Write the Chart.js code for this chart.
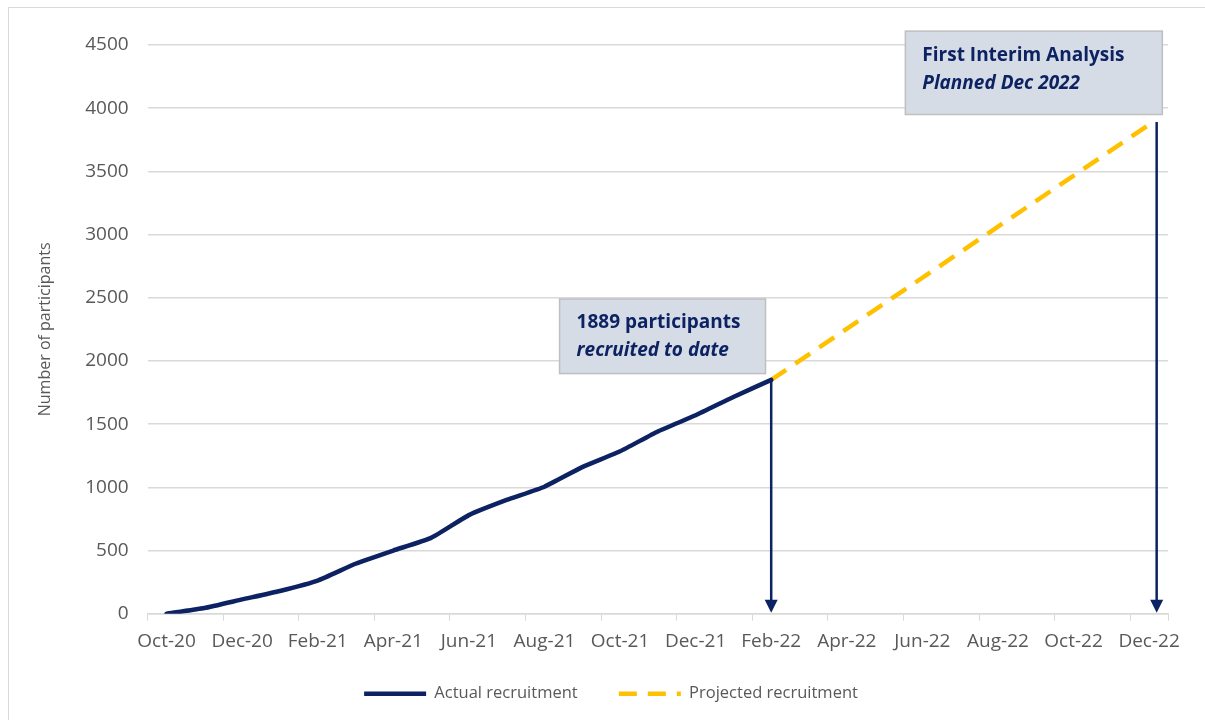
<!DOCTYPE html>
<html>
<head>
<meta charset="utf-8">
<script src="https://cdn.jsdelivr.net/npm/chart.js@4"></script>
<style>
  body { margin: 0; background: #fff; }
  #frame { position: absolute; left: 8px; top: 7px; width: 1205px; height: 720px; border: 1px solid #d9d9d9; }
  #wrap { position: absolute; left: 0; top: 0; width: 1205px; height: 720px; }
</style>
</head>
<body>
<div id="frame"></div>
<div id="wrap"><canvas id="myChart" width="1205" height="720"></canvas></div>
<script>
// months counted from Oct-20 (0) to Dec-22 (26)
var tickLabels = ["Oct-20", "Dec-20", "Feb-21", "Apr-21", "Jun-21", "Aug-21", "Oct-21",
  "Dec-21", "Feb-22", "Apr-22", "Jun-22", "Aug-22", "Oct-22", "Dec-22"];
var actualMonths = [0, 1, 2, 3, 4, 5, 6, 7, 8, 9, 10, 11, 12, 13, 14, 15, 16];
var actualValues = [0, 45, 113, 180, 262, 395, 500, 600, 780, 900, 1005, 1160, 1285, 1442, 1570, 1715, 1850];
var projectedMonths = [16, 26];
var projectedValues = [1850, 3870];
var arrowMonths = [16, 26.2];
var arrowTops = [1850, 3890];

var navy = "#0c2262";
var gold = "#ffc000";
var grey = "#595959";

function toPoints(xs, ys) {
  var pts = [];
  for (var i = 0; i < xs.length; i++) pts.push({ x: xs[i], y: ys[i] });
  return pts;
}

// callout boxes, placed in data units
var callouts = [
  { xMin: 10.4, xMax: 15.85, yMin: 1900, yMax: 2490,
    lines: [["bold", "1889 participants"], ["italic bold", "recruited to date"]] },
  { xMin: 19.55, xMax: 26.35, yMin: 3950, yMax: 4610,
    lines: [["bold", "First Interim Analysis"], ["italic bold", "Planned Dec 2022"]] }
];

var annotations = {
  id: "annotations",
  afterLayout: function(chart) {
    // legend sits a little right of centre in the original
    chart.legend.left += 11;
    chart.legend.right += 11;
  },
  afterDatasetsDraw: function(chart) {
    var c = chart.ctx, xs = chart.scales.x, ys = chart.scales.y;
    c.save();
    // arrows
    for (var i = 0; i < arrowMonths.length; i++) {
      var ax = xs.getPixelForValue(arrowMonths[i]);
      var top = ys.getPixelForValue(arrowTops[i]);
      var bottom = ys.getPixelForValue(0);
      c.strokeStyle = navy;
      c.fillStyle = navy;
      c.lineWidth = 2.5;
      c.beginPath();
      c.moveTo(ax, top);
      c.lineTo(ax, bottom - 10);
      c.stroke();
      c.beginPath();
      c.moveTo(ax - 6.5, bottom - 14);
      c.lineTo(ax + 6.5, bottom - 14);
      c.lineTo(ax, bottom - 1);
      c.closePath();
      c.fill();
    }
    // boxes
    callouts.forEach(function(b) {
      var x1 = xs.getPixelForValue(b.xMin), x2 = xs.getPixelForValue(b.xMax);
      var y1 = ys.getPixelForValue(b.yMax), y2 = ys.getPixelForValue(b.yMin);
      c.fillStyle = "#d6dce5";
      c.fillRect(x1, y1, x2 - x1, y2 - y1);
      c.strokeStyle = "#bfbfbf";
      c.lineWidth = 1.5;
      c.strokeRect(x1, y1, x2 - x1, y2 - y1);
      c.fillStyle = "#0c2262";
      c.textBaseline = "middle";
      c.textAlign = "left";
      b.lines.forEach(function(l, j) {
        c.font = l[0] + " 19px 'Open Sans'";
        c.fillText(l[1], x1 + 17, y1 + 24 + j * 28);
      });
    });
    c.restore();
  }
};

var ctx = document.getElementById("myChart").getContext("2d");
var myChart = new Chart(ctx, {
  type: "line",
  data: {
    datasets: [
      {
        label: "Actual recruitment",
        data: toPoints(actualMonths, actualValues),
        borderColor: navy,
        backgroundColor: navy,
        borderWidth: 4.5,
        pointRadius: 0,
        tension: 0.15,
        borderCapStyle: "round"
      },
      {
        label: "Projected recruitment",
        data: toPoints(projectedMonths, projectedValues),
        borderColor: gold,
        backgroundColor: gold,
        borderWidth: 4.5,
        borderDash: [18, 11],
        pointRadius: 0
      }
    ]
  },
  options: {
    responsive: false,
    animation: false,
    layout: { padding: { left: 32, right: 37, top: 45, bottom: 8 } },
    plugins: {
      tooltip: { enabled: false },
      legend: {
        position: "bottom",
        labels: {
          usePointStyle: true,
          pointStyle: "line",
          pointStyleWidth: 62,
          padding: 24,
          color: grey,
          font: { family: "'Open Sans'", size: 16.5 },
          generateLabels: function(chart) {
            var items = Chart.defaults.plugins.legend.labels.generateLabels(chart);
            items.forEach(function(it) {
              var ds = chart.data.datasets[it.datasetIndex];
              it.lineWidth = 4.5;
              it.strokeStyle = ds.borderColor;
              it.lineDash = ds.borderDash || [];
              if (it.datasetIndex === 0) it.text = it.text + "    ";
            });
            return items;
          }
        }
      }
    },
    scales: {
      x: {
        type: "linear",
        min: -0.5,
        max: 26.5,
        afterBuildTicks: function(axis) {
          var t = [];
          for (var m = 0; m <= 26; m++) t.push({ value: m });
          axis.ticks = t;
        },
        ticks: {
          autoSkip: false,
          maxRotation: 0,
          padding: 9,
          color: grey,
          font: { family: "'Open Sans'", size: 19 },
          callback: function(v) { return v % 2 ? "" : tickLabels[v / 2]; }
        },
        grid: {
          offset: true,
          drawOnChartArea: false,
          tickLength: 7,
          color: function(c) { return c.index % 2 ? "rgba(0,0,0,0)" : "#d9d9d9"; }
        },
        border: { color: "#d9d9d9", width: 1.5 }
      },
      y: {
        min: 0,
        max: 4500,
        ticks: {
          stepSize: 500,
          padding: 19,
          color: grey,
          font: { family: "'Open Sans'", size: 19 },
          callback: function(v) { return String(v); }
        },
        grid: { color: "#d9d9d9", lineWidth: 1.5, drawTicks: false },
        border: { display: false },
        title: {
          display: true,
          text: "Number of participants",
          color: grey,
          padding: { bottom: 11 },
          font: { family: "'Open Sans'", size: 16 }
        }
      }
    }
  },
  plugins: [annotations]
});
</script>
</body>
</html>
